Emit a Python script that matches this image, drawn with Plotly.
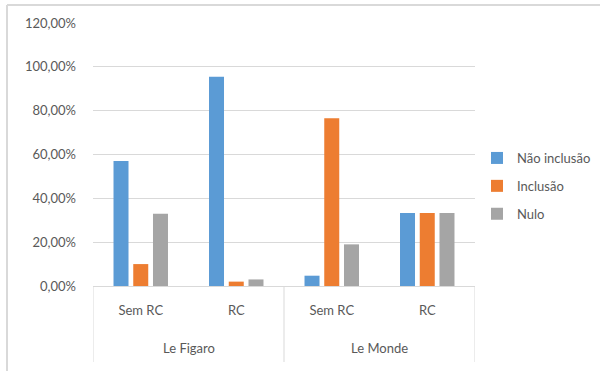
import plotly.graph_objects as go

groups = ["Le Figaro", "Le Monde"]
subcats = ["Sem RC", "RC", "Sem RC", "RC"]
group_of = [0, 0, 1, 1]
series_names = ["Não inclusão", "Inclusão", "Nulo"]
nao_inclusao = [0.57, 0.955, 0.047, 0.3333]
inclusao = [0.10, 0.02, 0.765, 0.3333]
nulo = [0.33, 0.03, 0.19, 0.3333]
colors = ["#5B9BD5", "#ED7D31", "#A5A5A5"]

xpos = list(range(len(subcats)))

fig = go.Figure()
for name, vals, col in zip(series_names, [nao_inclusao, inclusao, nulo], colors):
    fig.add_trace(go.Bar(
        x=xpos, y=vals, name=name,
        marker=dict(color=col, line=dict(width=0)),
        legendgroup=name,
    ))

L, R, T, B = 93, 125, 23, 85
W, H = 600 - L - R, 371 - T - B
px = lambda x: (x - L) / W
py = lambda y: (371 - B - y) / H

FONT = "Lato, Open Sans, sans-serif"
GRAY = "#d9d9d9"

shapes = [
    dict(type="line", xref="paper", yref="paper", x0=px(7), x1=px(7),
         y0=py(5), y1=py(371), line=dict(color=GRAY, width=2)),
    dict(type="line", xref="paper", yref="paper", x0=px(7), x1=px(600),
         y0=py(5), y1=py(5), line=dict(color=GRAY, width=2)),
]
# group dividers
bounds = [-0.5]
for i in range(1, len(group_of)):
    if group_of[i] != group_of[i - 1]:
        bounds.append(i - 0.5)
bounds.append(len(group_of) - 0.5)
for b in bounds:
    shapes.append(dict(type="line", xref="x", yref="paper", x0=b, x1=b,
                       y0=0, y1=py(362), line=dict(color=GRAY, width=1)))

annotations = []
for g, name in enumerate(groups):
    idx = [i for i in xpos if group_of[i] == g]
    annotations.append(dict(x=sum(idx) / len(idx), xref="x", y=py(348), yref="paper",
                            text=name, showarrow=False, yanchor="middle",
                            font=dict(family=FONT, size=13, color="#595959")))

fig.update_layout(
    width=600, height=371,
    margin=dict(l=L, r=R, t=T, b=B, autoexpand=False),
    paper_bgcolor="white", plot_bgcolor="white",
    barmode="group", bargap=0.38, bargroupgap=0.24,
    separators=",.",
    font=dict(family=FONT, size=13, color="#595959"),
    showlegend=True,
    legend=dict(x=477 / 600, xref="container", xanchor="left",
                y=1 - 143 / 371, yref="container", yanchor="top",
                font=dict(family=FONT, size=13, color="#595959"), tracegroupgap=8,
                itemwidth=30, bgcolor="rgba(0,0,0,0)"),
    xaxis=dict(range=[-0.5, 3.5], tickmode="array", tickvals=xpos, ticktext=subcats,
               showgrid=False, showline=True, linecolor=GRAY, linewidth=1,
               ticks="", ticklabelstandoff=12, zeroline=False,
               tickfont=dict(family=FONT, size=13, color="#595959")),
    yaxis=dict(range=[0, 1.2], dtick=0.2, tickformat=".2%", showgrid=True,
               gridcolor=GRAY, gridwidth=1, zeroline=False, showline=False,
               ticks="", ticklabelstandoff=16,
               tickfont=dict(family=FONT, size=13, color="#595959")),
    shapes=shapes,
    annotations=annotations,
)
fig.write_html("out.html")
